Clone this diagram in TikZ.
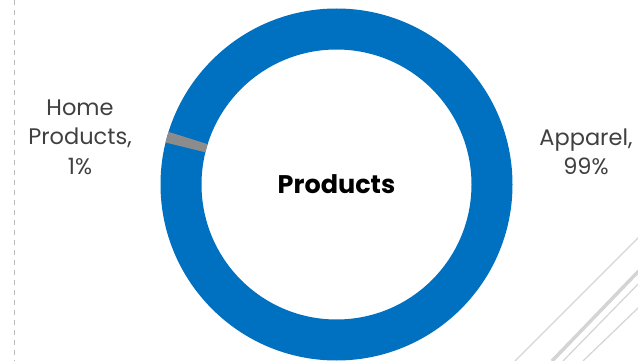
\documentclass[tikz,border=0pt]{standalone}
\usepackage{fontspec}
\setmainfont{Poppins}
\usetikzlibrary{calc}
\definecolor{ringblue}{HTML}{0070C0}
\definecolor{slicegray}{HTML}{8C8C8C}
\definecolor{labelgray}{HTML}{404040}
\definecolor{deco}{HTML}{D4D4D4}
\begin{document}
\begin{tikzpicture}[x=1pt,y=-1pt]
	\tikzset{lbl/.style={align=center,text=labelgray,font=\fontsize{22.5}{29.5}\selectfont,inner sep=0pt},
		decoline/.style={draw=deco,line width=1.2pt}}
	\useasboundingbox (0,0) rectangle (638,361);
	\clip (0,0) rectangle (638,361);
	% ring
	\coordinate (c) at (336.5,184.5);
	\fill[ringblue,even odd rule] (c) circle[radius=176pt] (c) circle[radius=135pt];
	\fill[slicegray] ($(c)+(162.6:176pt)$) arc[start angle=162.6,end angle=166.2,radius=176pt]
		-- ($(c)+(166.2:135pt)$) arc[start angle=166.2,end angle=162.6,radius=135pt] -- cycle;
	% labels
	\node[font=\bfseries\fontsize{25.5}{28}\selectfont,inner sep=0pt] (prod) at (c) {Products};
	\node[lbl] (home) at (80,137) {Home\\Products,\\1\%};
	\node[lbl] (apparel) at (586,152) {Apparel,\\99\%};
	% frame decorations
	\draw[gray!55,line width=1pt,dash pattern=on 5pt off 5pt] (14,0) -- (14,361);
	\draw[decoline] (515,361) -- +(160,-160);
	\draw[decoline,line width=3.5pt] (552,361) -- +(160,-166);
	\draw[decoline] (563,361) -- +(160,-164);
	\draw[decoline] (583,361) -- +(160,-154);
\end{tikzpicture}
\end{document}
